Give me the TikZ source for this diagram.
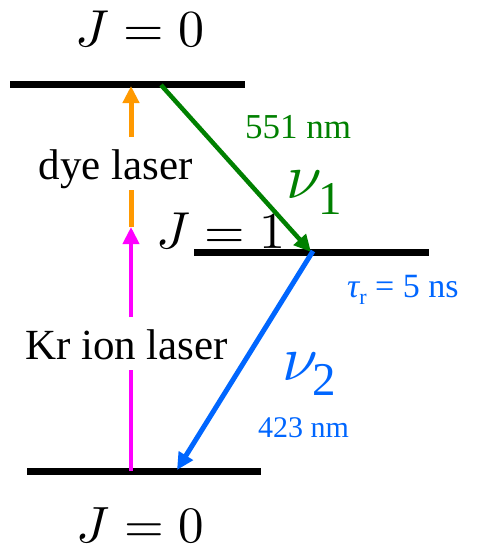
\documentclass[tikz,border=0pt]{standalone}
\usepackage{unicode-math}
\setmathfont{Latin Modern Math}
\setmainfont{Liberation Serif}
\newfontfamily\tms{Liberation Serif}
\usetikzlibrary{arrows.meta}
\definecolor{dgreen}{RGB}{0,128,0}
\definecolor{lblue}{RGB}{0,102,255}
\definecolor{lorange}{RGB}{255,153,0}
\definecolor{lmagenta}{RGB}{255,0,255}
\newcommand{\fs}[1]{\fontsize{#1}{#1}\selectfont}
\tikzset{
  level/.style={line width=7pt},
  tr/.style={-{Triangle[length=17pt,width=16pt]}},
  lbl/.style={inner sep=0pt, anchor=base},
  lblw/.style={inner sep=0pt, anchor=base west, font=\tms},
}
\begin{document}
\begin{tikzpicture}[x=1pt,y=-1pt]
\useasboundingbox (0,0) rectangle (477,551);
% levels
\coordinate (t1) at (10,84);  \coordinate (t2) at (245,84);
\coordinate (m1) at (194,252); \coordinate (m2) at (429,252);
\coordinate (b1) at (27,471); \coordinate (b2) at (261,471);
\draw[level] (t1) -- (t2);
\draw[level] (m1) -- (m2);
\draw[level] (b1) -- (b2);
% level labels
\node[lbl] (J0t) at (140,47) {\fs{52}$J=0$};
\node[lbl] (J1) at (221,248) {\fs{52}$J=1$};
\node[lbl] (J0b) at (140,542) {\fs{51}$J=0$};
% pump arrows
\coordinate (mgB) at (131,471);
\coordinate (mgA) at (131,370);
\coordinate (mgC) at (131,317);
\coordinate (mgT) at (131,227);
\coordinate (orB) at (131,227);
\coordinate (orA) at (131,190);
\coordinate (orC) at (131,137);
\coordinate (orT) at (131,86);
\draw[lmagenta, line width=4pt] (mgB) -- (mgA);
\draw[lmagenta, line width=4pt, tr] (mgC) -- (mgT);
\draw[lorange, line width=5pt] (orB) -- (orA);
\draw[lorange, line width=5pt, tr] (orC) -- (orT);
\node[lbl, font=\tms] (dye) at (116,179) {\fs{43}dye laser};
\node[lbl, font=\tms] (kr) at (126.5,359) {\fs{43}Kr ion laser};
% emission arrows
\coordinate (gS) at (161,85);
\coordinate (gE) at (311,252);
\coordinate (bS) at (313,251);
\coordinate (bE) at (177,470);
\draw[dgreen, line width=4.5pt, tr] (gS) -- (gE);
\draw[lblue, line width=5pt, tr] (bS) -- (bE);
% labels
\node[lblw, text=dgreen] (w1) at (245,138) {\fs{35}551 nm};
\node[lblw, text=dgreen] (nu1) at (286,198) {\fs{64}$\nu$};
\node[lblw, text=dgreen] (s1) at (318,214) {\fs{47}1};
\node[lblw, text=lblue] (nu2) at (282,380) {\fs{64}$\nu$};
\node[lblw, text=lblue] (s2) at (312,395) {\fs{47}2};
\node[lblw, text=lblue] (w2) at (258,437) {\fs{30}423 nm};
\node[lblw, text=lblue] (tau) at (347,297) {\fs{34}{\itshape τ}\raisebox{-0.22em}{\fs{22}r} = 5 ns};
\end{tikzpicture}
\end{document}
